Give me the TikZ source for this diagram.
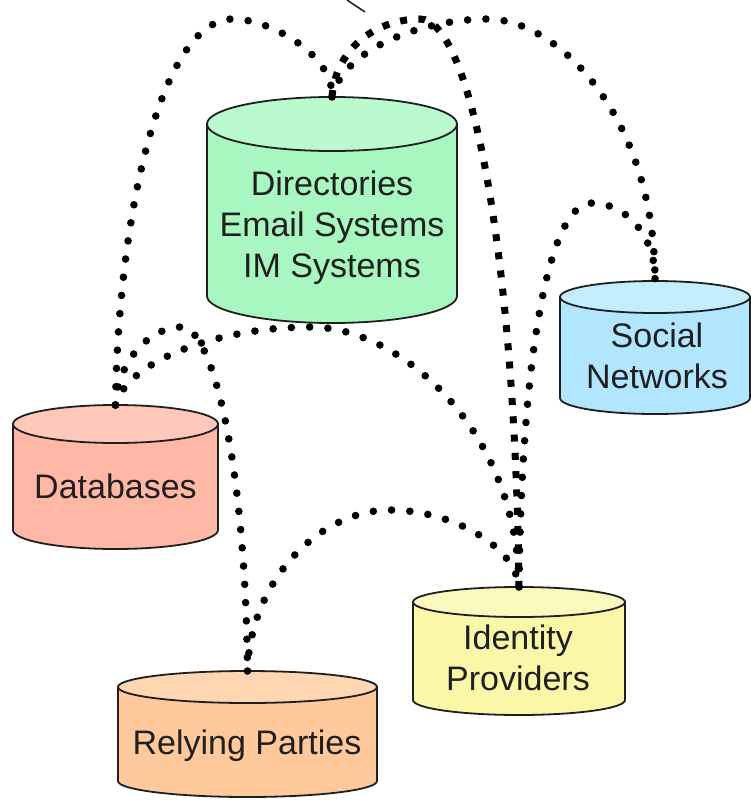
\documentclass[tikz,border=0pt]{standalone}
\usepackage{fontspec}
\setmainfont{Liberation Sans}

% fills: body colour and lighter top-cap colour for each store
\definecolor{dirbody}{RGB}{168,246,192}
\definecolor{dirtop}{RGB}{186,250,206}
\definecolor{dbbody}{RGB}{255,184,166}
\definecolor{dbtop}{RGB}{255,200,186}
\definecolor{socbody}{RGB}{178,230,255}
\definecolor{soctop}{RGB}{194,238,255}
\definecolor{idpbody}{RGB}{250,247,168}
\definecolor{idptop}{RGB}{251,249,190}
\definecolor{rpbody}{RGB}{255,201,156}
\definecolor{rptop}{RGB}{255,214,178}

\tikzset{
  drumline/.style={draw=black!88, line width=1.8pt},
  drumtext/.style={font=\fontsize{34}{41}\selectfont, text=black!88, align=center},
  dotline/.style={draw=black, line width=7.6pt, line cap=round,
                  dash pattern=on 0pt off 18.3pt},
  squareline/.style={draw=black, line width=7pt, line cap=butt,
                  dash pattern=on 7pt off 11.3pt},
  leader/.style={draw=black!85, line width=1.6pt}
}

% \drum{name}{cx}{top centre y}{bottom centre y}{rx}{ry}{body}{top}
\newcommand{\drum}[8]{%
  \filldraw[drumline, fill=#7] (#2-#5,#3) -- (#2-#5,#4)
     arc[start angle=180, end angle=0, x radius=#5, y radius=#6] -- (#2+#5,#3) -- cycle;
  \filldraw[drumline, fill=#8] (#2,#3) ellipse[x radius=#5, y radius=#6];
  \coordinate (#1-top) at (#2,#3-#6);
}

\begin{document}
\begin{tikzpicture}[x=1pt, y=-1pt]
  \useasboundingbox (0,0) rectangle (751,800);

  % data stores
  \drum{dir}{332}{124}{296}{125}{27}{dirbody}{dirtop}
  \drum{db}{115.5}{424}{530}{102.5}{19}{dbbody}{dbtop}
  \drum{soc}{655}{297}{398}{95}{16}{socbody}{soctop}
  \drum{idp}{519}{602}{700}{106}{15}{idpbody}{idptop}
  \drum{rp}{247.5}{687}{781}{129.5}{16}{rpbody}{rptop}

  % labels
  \node[drumtext] (dir) at (332,228) {Directories\\Email Systems\\IM Systems};
  \node[drumtext] (db)  at (115.5,486) {Databases};
  \node[drumtext] (soc) at (657,356) {Social\\Networks};
  \node[drumtext] (idp) at (518,658) {Identity\\Providers};
  \node[drumtext] (rp)  at (247,746) {Relying Parties};

  % cut-off leader at the top edge
  \coordinate (lead-a) at (347,0);
  \coordinate (lead-b) at (365,12);
  \draw[leader] (lead-a) -- (lead-b);

  % dotted links between the stores
  \draw[dotline] (db-top) .. controls (118,220) and (160,19) .. (233,19)
                          .. controls (270,19) and (334,55) .. (dir-top);
  \draw[dotline] (dir-top) .. controls (345,45) and (430,19) .. (487,19)
                           .. controls (560,19) and (655,120) .. (soc-top);
  \draw[squareline] (dir-top) .. controls (336,45) and (380,19) .. (420,19)
                              .. controls (470,19) and (515,250) .. (idp-top);
  \draw[dotline] (idp-top) .. controls (521,380) and (545,203) .. (592,203)
                           .. controls (625,203) and (656,235) .. (soc-top);
  \draw[dotline] (db-top) .. controls (128,360) and (220,327) .. (311,327)
                          .. controls (400,327) and (518,430) .. (idp-top);
  \draw[dotline] (db-top) .. controls (118,360) and (150,327) .. (182,327)
                          .. controls (210,327) and (245,450) .. (rp-top);
  \draw[dotline] (rp-top) .. controls (250,580) and (320,510) .. (390,510)
                          .. controls (450,510) and (515,545) .. (idp-top);
\end{tikzpicture}
\end{document}
